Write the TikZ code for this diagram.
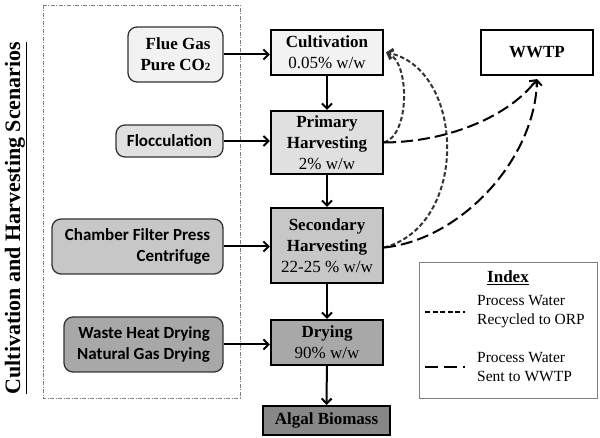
\documentclass[tikz,border=0pt]{standalone}
\usepackage{fontspec}
\setmainfont{Liberation Serif}
\newfontfamily\calibfont{Carlito}
\usetikzlibrary{arrows.meta}
\definecolor{fillA}{gray}{0.95}
\definecolor{fillB}{gray}{0.88}
\definecolor{fillC}{gray}{0.78}
\definecolor{fillD}{gray}{0.66}
\definecolor{fillE}{gray}{0.53}
\definecolor{edgeL}{gray}{0.2}
\definecolor{dashgray}{gray}{0.2}
\begin{document}
\begin{tikzpicture}[x=1pt,y=-1pt,
  mainbox/.style={draw=black,line width=2.2pt,minimum width=112pt,align=center,
    font=\fontsize{17}{21}\selectfont,inner sep=0pt},
  leftbox/.style={draw=edgeL,line width=1.3pt,rounded corners=9pt,align=right,
    inner sep=0pt,font=\fontsize{17}{21}\selectfont},
  arr/.style={line width=2pt,-{Straight Barb[length=5pt,width=10pt,line width=2pt]}},
  recyc/.style={draw=dashgray,line width=2pt,dash pattern=on 4.5pt off 2.5pt,
    -{Straight Barb[length=5pt,width=10pt,line width=2pt]}},
  towwtp/.style={draw=black,line width=2pt,dash pattern=on 12pt off 5pt,
    -{Straight Barb[length=5pt,width=10pt,line width=2pt]}}
]
\useasboundingbox (0,0) rectangle (600,438);
\fill[white] (0,0) rectangle (600,438);

% scenario frame
\draw[gray,line width=0.9pt,dash pattern=on 4pt off 1.5pt on 1pt off 1.5pt] (43,5) rectangle (240,398);
\node[rotate=90,font=\fontsize{22}{24}\selectfont\bfseries] (title) at (16,218)
  {\underline{Cultivation and Harvesting Scenarios}};

% left boxes
\node[leftbox,fill=fillA,minimum width=95pt,minimum height=55pt,font=\fontsize{17}{21}\selectfont\bfseries] (flue) at (175.5,54.5)
  {Flue Gas\\Pure CO{\fontsize{11}{11}\selectfont 2}};
\node[leftbox,fill=fillB,minimum width=107pt,minimum height=32pt,font=\fontsize{17}{21}\selectfont\calibfont\bfseries] (floc) at (169.5,141)
  {Flocculation};
\node[leftbox,fill=fillC,minimum width=171pt,minimum height=55pt,font=\fontsize{17}{21}\selectfont\calibfont\bfseries] (cham) at (137.5,246.5)
  {Chamber Filter Press\\Centrifuge};
\node[leftbox,fill=fillD,minimum width=159pt,minimum height=55pt,font=\fontsize{17}{21}\selectfont\calibfont\bfseries] (waste) at (143.5,344.5)
  {Waste Heat Drying\\Natural Gas Drying};

% main boxes
\node[mainbox,fill=fillA,minimum height=45pt] (cult) at (327,52.5)
  {\textbf{Cultivation}\\0.05\% w/w};
\node[mainbox,fill=fillB,minimum height=63pt] (prim) at (327,142.5)
  {\textbf{Primary}\\\textbf{Harvesting}\\2\% w/w};
\node[mainbox,fill=fillC,minimum height=75pt] (sec) at (327,245.5)
  {\textbf{Secondary}\\\textbf{Harvesting}\\22-25 \% w/w};
\node[mainbox,fill=fillD,minimum height=45pt] (dry) at (327,342.5)
  {\textbf{Drying}\\90\% w/w};
\node[mainbox,fill=fillE,minimum width=127pt,minimum height=29pt] (alg) at (326.5,420.5)
  {\textbf{Algal Biomass}};
\node[mainbox,fill=white,minimum height=45pt] (wwtp) at (537,52.5)
  {\textbf{WWTP}};

% flow arrows
\draw[arr] (cult) -- (prim);
\draw[arr] (prim) -- (sec);
\draw[arr] (sec) -- (dry);
\draw[arr] (dry) -- (alg);
\draw[arr] (flue.east) -- (flue.east -| cult.west);
\draw[arr] (floc.east) -- (floc.east -| prim.west);
\draw[arr] (cham.east) -- (cham.east -| sec.west);
\draw[arr] (waste.east) -- (waste.east -| dry.west);

% recycle and WWTP flows
\coordinate (primout) at (prim.east);
\coordinate (secout) at ([yshift=-2pt]sec.east);
\coordinate (cultin) at ([xshift=2pt]cult.east);
\coordinate (wwtpin) at ([yshift=-3pt]wwtp.south);
\draw[recyc] (primout) .. controls (410,135) and (410,62) .. (cultin);
\draw[recyc] (secout) .. controls (470,225) and (465,68) .. (cultin);
\draw[towwtp] (primout) .. controls (450,142) and (510,115) .. (wwtpin);
\draw[towwtp] (secout) .. controls (460,240) and (535,160) .. (wwtpin);

% index
\node[draw=gray,line width=0.9pt,minimum width=178pt,minimum height=136pt,inner sep=0pt] (index) at (508,330) {};
\node[font=\fontsize{17}{20}\selectfont\bfseries] (idxtitle) at (508,278) {\underline{Index}};
\coordinate (l1a) at (425,312);
\coordinate (l1b) at (465,312);
\coordinate (l2a) at (425,367);
\coordinate (l2b) at (465,367);
\draw[line width=2.5pt,dash pattern=on 5pt off 2.5pt] (l1a) -- (l1b);
\draw[line width=2.5pt,dash pattern=on 13pt off 6pt] (l2a) -- (l2b);
\node[anchor=west,align=left,inner sep=0pt,font=\fontsize{15.5}{19}\selectfont] (idx1) at (477,312)
  {Process Water\\Recycled to ORP};
\node[anchor=west,align=left,inner sep=0pt,font=\fontsize{15.5}{19}\selectfont] (idx2) at (477,367)
  {Process Water\\Sent to WWTP};
\end{tikzpicture}
\end{document}
